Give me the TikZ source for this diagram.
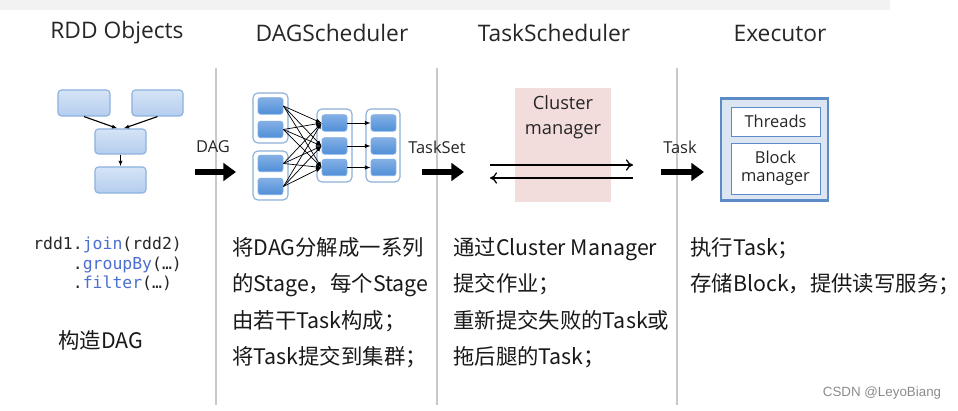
\documentclass[tikz,border=0pt]{standalone}
\usepackage{fontspec}
\setmainfont{Open Sans}
\newfontfamily\cjk{Noto Sans CJK SC}
\newfontfamily\codefont{DejaVu Sans Mono}
\newfontfamily\wmfont{Liberation Sans}
\usetikzlibrary{arrows.meta,calc}
\newcommand\px[1]{#1*0.71132pt}
\definecolor{sepgray}{HTML}{C8C8C8}
\definecolor{rddfill}{HTML}{B4CDEE}
\definecolor{rddborder}{HTML}{8DB1E0}
\definecolor{taskfill}{HTML}{4F8ED8}
\definecolor{taskborder}{HTML}{7FAEE6}
\definecolor{grpborder}{HTML}{8CB0DA}
\definecolor{pinkfill}{HTML}{F3DCDC}
\definecolor{exfill}{HTML}{DCE6F2}
\definecolor{exborder}{HTML}{5B8CC8}
\definecolor{codeblue}{HTML}{4A6FD0}
\begin{document}
\begin{tikzpicture}[x=0.025cm,y=-0.025cm,
  title/.style={font=\fontsize{16.2}{19}\selectfont,text=black!85},
  lbl/.style={font=\fontsize{11.7}{14}\selectfont,text=black!85},
  rddbox/.style={draw=rddborder,line width=0.8pt,top color=rddfill!55,bottom color=rddfill,rounded corners=2.5pt,inner sep=0pt},
  taskbox/.style={draw=taskborder,line width=0.6pt,top color=taskfill!70,bottom color=taskfill,rounded corners=2pt,minimum width=\px{25},minimum height=\px{16.5},inner sep=0pt},
  grpbox/.style={draw=grpborder,line width=0.8pt,fill=white,rounded corners=3.5pt,inner sep=0pt},
  sep/.style={draw=sepgray,line width=1.4pt},
  bigarrow/.style={line width=4.2pt,-{Triangle[length=9pt,width=12.5pt]}},
  thinarrow/.style={line width=0.9pt,-{To[length=5pt,width=8pt]}},
  cnx/.style={line width=0.5pt,-{Latex[length=4pt,width=3pt]}},
  zh/.style={font=\cjk\fontsize{15.2}{26}\selectfont,anchor=north west,align=left,inner sep=0pt,text=black!90},
]
\useasboundingbox (0,0) rectangle (958,411);
\fill[white] (0,0) rectangle (958,411);
\fill[black!5] (0,0) rectangle (890,10);

% separators
\coordinate (s1t) at (216,68); \coordinate (s1b) at (216,405);
\coordinate (s2t) at (437,68); \coordinate (s2b) at (437,405);
\coordinate (s3t) at (677,68); \coordinate (s3b) at (677,405);
\draw[sep] (s1t) -- (s1b);
\draw[sep] (s2t) -- (s2b);
\draw[sep] (s3t) -- (s3b);

% titles
\node[title] (t1) at (117,33) {RDD Objects};
\node[title] (t2) at (332,33) {DAGScheduler};
\node[title] (t3) at (554,33) {TaskScheduler};
\node[title] (t4) at (780,33) {Executor};

% RDD objects
\node[rddbox,minimum width=\px{52},minimum height=\px{26}] (r1) at (84,103) {};
\node[rddbox,minimum width=\px{51},minimum height=\px{26}] (r2) at (157.5,103) {};
\node[rddbox,minimum width=\px{51},minimum height=\px{25}] (r3) at (120.5,141.5) {};
\node[rddbox,minimum width=\px{51},minimum height=\px{26}] (r4) at (120.5,180) {};
\draw[cnx,line width=0.8pt] (r1.south) -- ($(r3.north)+(-3,0)$);
\draw[cnx,line width=0.8pt] (r2.south) -- ($(r3.north)+(3,0)$);
\draw[cnx,line width=0.8pt] (r3.south) -- (r4.north);

% DAG arrow
\node[lbl] (ldag) at (213,147) {DAG};
\coordinate (d1) at (195,172); \coordinate (d2) at (236,172);
\draw[bigarrow] (d1) -- (d2);

% DAGScheduler
\node[grpbox,minimum width=\px{35},minimum height=\px{50}] (gA) at (270.5,118) {};
\node[grpbox,minimum width=\px{35},minimum height=\px{49}] (gB) at (270.5,175.5) {};
\node[grpbox,minimum width=\px{35},minimum height=\px{73}] (gM) at (334.5,145.5) {};
\node[grpbox,minimum width=\px{34},minimum height=\px{73}] (gR) at (383,145.5) {};
\node[taskbox] (a1) at (270.5,106) {};
\node[taskbox] (a2) at (270.5,129.5) {};
\node[taskbox] (b1) at (270.5,163.5) {};
\node[taskbox] (b2) at (270.5,186.5) {};
\node[taskbox] (m1) at (334.5,123) {};
\node[taskbox] (m2) at (334.5,146) {};
\node[taskbox] (m3) at (334.5,167.5) {};
\node[taskbox] (n1) at (383.5,123) {};
\node[taskbox] (n2) at (383.5,146) {};
\node[taskbox] (n3) at (383.5,167.5) {};
\foreach \s in {a1,a2,b1,b2}
  \foreach \t in {m1,m2,m3}
    \draw[cnx] (\s.east) -- (\t.west);
\draw[cnx] (m1.east) -- (n1.west);
\draw[cnx] (m2.east) -- (n2.west);
\draw[cnx] (m3.east) -- (n3.west);

% TaskSet arrow
\node[lbl] (lts) at (437,147) {TaskSet};
\coordinate (e1) at (422,172); \coordinate (e2) at (464,172);
\draw[bigarrow] (e1) -- (e2);

% TaskScheduler
\node[fill=pinkfill,minimum width=\px{95},minimum height=\px{113},inner sep=0pt] (cm) at (563,145) {};
\node[font=\fontsize{13}{18}\selectfont,align=center,text=black!85] (cmt) at (563,117) {Cluster\\manager};
\coordinate (p1) at (490,165); \coordinate (p2) at (633,165);
\coordinate (p3) at (633,178); \coordinate (p4) at (490,178);
\draw[thinarrow] (p1) -- (p2);
\draw[thinarrow] (p3) -- (p4);

% Task arrow
\node[lbl] (ltask) at (680,147) {Task};
\coordinate (f1) at (661,172); \coordinate (f2) at (704,172);
\draw[bigarrow] (f1) -- (f2);

% Executor
\node[draw=exborder,line width=1.6pt,fill=exfill,minimum width=\px{107},minimum height=\px{102},inner sep=0pt] (ex) at (774.5,149.5) {};
\node[draw=exborder,line width=0.6pt,fill=white,minimum width=\px{89},minimum height=\px{29},inner sep=0pt,lbl] (thr) at (775.5,121.5) {Threads};
\node[draw=exborder,line width=0.6pt,fill=white,minimum width=\px{89},minimum height=\px{51},inner sep=0pt,lbl,align=center] (blk) at (775.5,168.5) {Block\\[-1pt]manager};

% code
\node[anchor=north west,inner sep=0pt,align=left,font=\codefont\fontsize{11.7}{13.8}\selectfont,text=black!85] (code) at (33,237)
 {rdd1.{\color{codeblue}join}(rdd2)\\
  \phantom{rdd1}.{\color{codeblue}groupBy}(…)\\
  \phantom{rdd1}.{\color{codeblue}filter}(…)};
\node[zh,anchor=west] (gz) at (58,340) {构造DAG};

% Chinese descriptions
\node[zh] (dd) at (232,237) {将DAG分解成一系列\\的Stage，每个Stage\\由若干Task构成；\\将Task提交到集群；};
\node[zh] (td) at (453,237) {通过Cluster Manager\\提交作业；\\重新提交失败的Task或\\拖后腿的Task；};
\node[zh] (ed) at (690,237) {执行Task；\\存储Block，提供读写服务；};

% watermark
\node[font=\wmfont\fontsize{9.5}{11}\selectfont,text=black!45] (wm) at (882,393) {CSDN @LeyoBiang};
\end{tikzpicture}
\end{document}
